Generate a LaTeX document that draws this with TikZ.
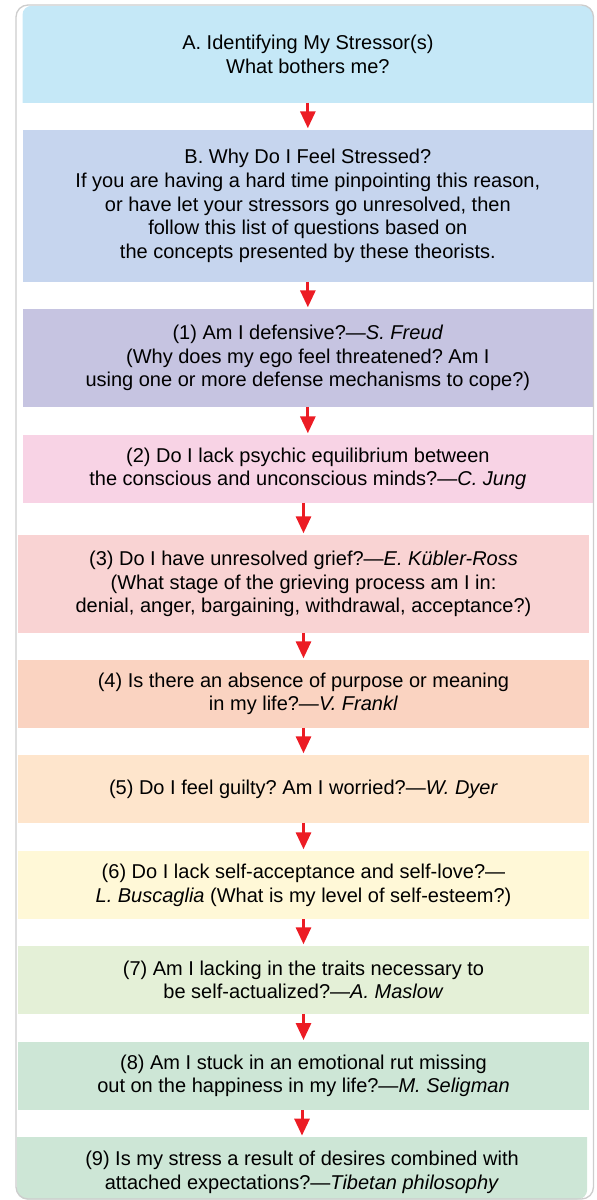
\documentclass[tikz,border=0pt]{standalone}
\usepackage{fontspec}
\setmainfont{Liberation Sans}
\usepackage{tikz}
\usetikzlibrary{arrows.meta, backgrounds}
\definecolor{myred}{RGB}{236,28,36}
\definecolor{myframe}{RGB}{205,205,205}
\definecolor{fillsky}{RGB}{197,232,247}
\definecolor{fillblue}{RGB}{198,213,238}
\definecolor{filllilac}{RGB}{198,196,225}
\definecolor{fillpink}{RGB}{248,211,229}
\definecolor{fillrose}{RGB}{249,211,211}
\definecolor{fillsalmon}{RGB}{250,211,193}
\definecolor{fillpeach}{RGB}{254,229,204}
\definecolor{fillcream}{RGB}{255,248,215}
\definecolor{fillsage}{RGB}{228,240,215}
\definecolor{fillmint}{RGB}{205,230,214}
\newcommand{\stepfont}{\fontsize{20}{23.7}\selectfont\frenchspacing}
\tikzset{
  stepbox/.style={rectangle, fill=#1, align=center, inner sep=0pt,
    minimum width=571pt, font=\stepfont},
  arrow/.style={-{Triangle[width=15pt, length=17pt]}, line width=3pt,
    color=myred, shorten >=1.5pt}
}

\begin{document}
\begin{tikzpicture}[x=1pt, y=-1pt]
  \useasboundingbox (0,0) rectangle (597,1200);

  \node[stepbox=fillsky, fill=none, minimum width=570.3pt, minimum height=96.7pt]
    (stressor) at (307.85, 54.35) {A. Identifying My Stressor(s)\\What bothers me?};
  \node[stepbox=fillblue, minimum width=570.3pt, minimum height=151.7pt]
    (reason) at (307.85, 205.85) {B. Why Do I Feel Stressed?\\
    If you are having a hard time pinpointing this reason,\\
    or have let your stressors go unresolved, then\\
    follow this list of questions based on\\
    the concepts presented by these theorists.};
  \node[stepbox=filllilac, minimum width=570.3pt, minimum height=97.7pt]
    (freud) at (307.85, 357.85) {(1) Am I defensive?---\textit{S. Freud}\\
    (Why does my ego feel threatened? Am I\\
    using one or more defense mechanisms to cope?)};
  \node[stepbox=fillpink, minimum width=570.3pt, minimum height=67.7pt]
    (jung) at (307.85, 468.85) {(2) Do I lack psychic equilibrium between\\
    the conscious and unconscious minds?---\textit{C. Jung}};
  \node[stepbox=fillrose, minimum height=97.7pt]
    (kubler) at (303.5, 583.85) {(3) Do I have unresolved grief?---\textit{E. Kübler-Ross}\\
    (What stage of the grieving process am I in:\\
    denial, anger, bargaining, withdrawal, acceptance?)};
  \node[stepbox=fillsalmon, minimum height=67.7pt]
    (frankl) at (303.5, 693.85) {(4) Is there an absence of purpose or meaning\\
    in my life?---\textit{V. Frankl}};
  \node[stepbox=fillpeach, minimum height=67.7pt]
    (dyer) at (303.5, 788.85) {(5) Do I feel guilty? Am I worried?---\textit{W. Dyer}};
  \node[stepbox=fillcream, minimum height=68pt]
    (buscaglia) at (303.5, 885) {(6) Do I lack self-acceptance and self-love?---\\
    \textit{L. Buscaglia} (What is my level of self-esteem?)};
  \node[stepbox=fillsage, minimum height=67.7pt]
    (maslow) at (303.5, 979.85) {(7) Am I lacking in the traits necessary to\\
    be self-actualized?---\textit{A. Maslow}};
  \node[stepbox=fillmint, minimum height=68.3pt]
    (seligman) at (303.5, 1075.85) {(8) Am I stuck in an emotional rut missing\\
    out on the happiness in my life?---\textit{M. Seligman}};
  \node[stepbox=fillmint, fill=none, minimum width=570pt, minimum height=70pt]
    (tibetan) at (302, 1172.3) {(9) Is my stress a result of desires combined with\\
    attached expectations?---\textit{Tibetan philosophy}};

  \begin{scope}[on background layer]
    \fill[fillsky] (stressor.south west) [rounded corners=9pt] -- (stressor.north west)
      -- (stressor.north east) [sharp corners] -- (stressor.south east) -- cycle;
    \fill[fillmint] (tibetan.north east) [rounded corners=10pt]
      -- ([yshift=8pt]tibetan.south east) -- ([yshift=8pt]tibetan.south west)
      [sharp corners] -- (tibetan.north west) -- cycle;
  \end{scope}

  \draw[arrow] (reason.north |- stressor.south) -- (reason.north);
  \draw[arrow] (freud.north |- reason.south) -- (freud.north);
  \draw[arrow] (jung.north |- freud.south) -- (jung.north);
  \draw[arrow] (kubler.north |- jung.south) -- (kubler.north);
  \draw[arrow] (frankl.north |- kubler.south) -- (frankl.north);
  \draw[arrow] (dyer.north |- frankl.south) -- (dyer.north);
  \draw[arrow] (buscaglia.north |- dyer.south) -- (buscaglia.north);
  \draw[arrow] (maslow.north |- buscaglia.south) -- (maslow.north);
  \draw[arrow] (seligman.north |- maslow.south) -- (seligman.north);
  \draw[arrow] (tibetan.north |- seligman.south) -- (tibetan.north);

  \draw[myframe, line width=1.3pt, rounded corners=12pt] (16,5) rectangle (593.5,1199);
\end{tikzpicture}
\end{document}
